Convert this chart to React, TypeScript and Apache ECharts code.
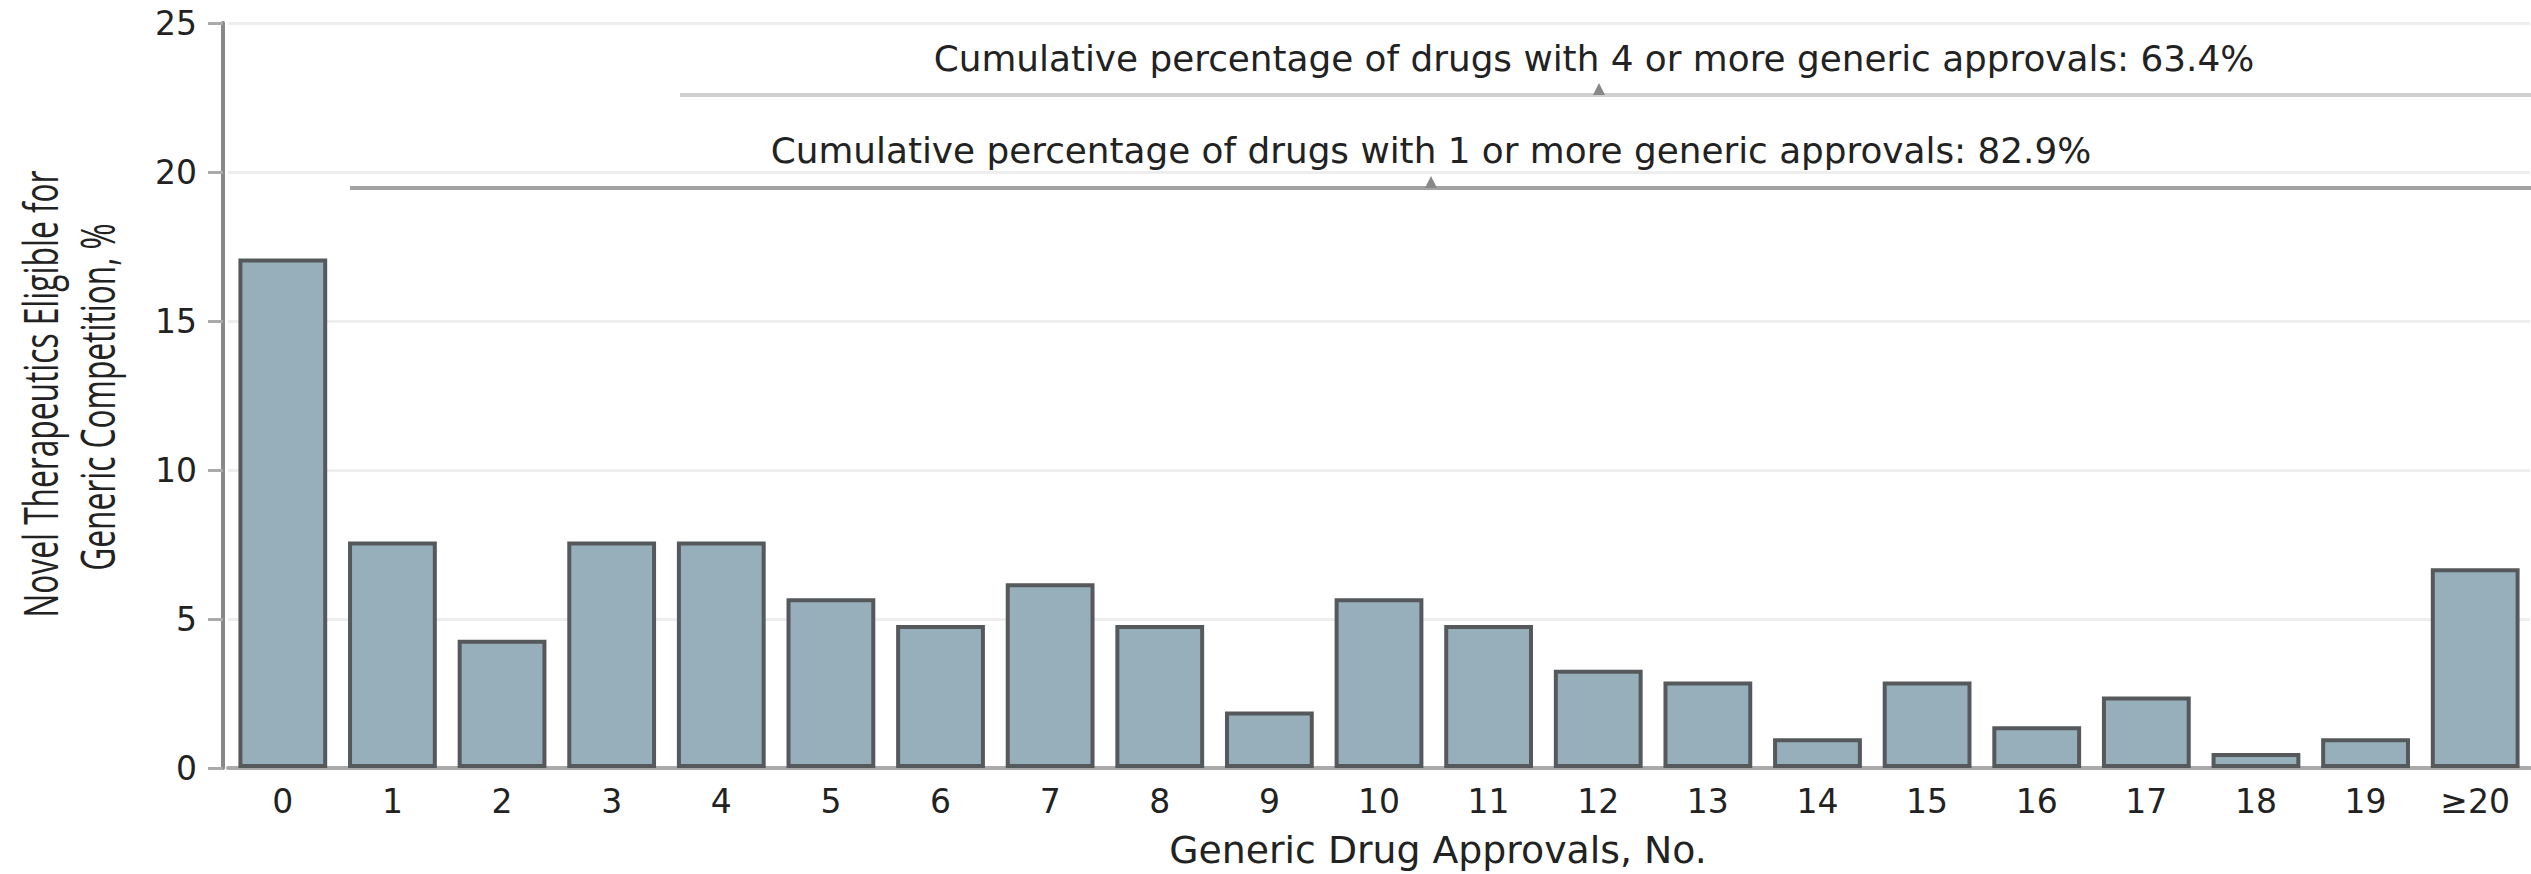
import React, { useEffect, useRef } from "react";
import * as echarts from "echarts";

const categories = ["0", "1", "2", "3", "4", "5", "6", "7", "8", "9", "10", "11", "12", "13", "14", "15", "16", "17", "18", "19", "≥20"];
const percentOfDrugs = [17.1, 7.6, 4.3, 7.6, 7.6, 5.7, 4.8, 6.2, 4.8, 1.9, 5.7, 4.8, 3.3, 2.9, 1.0, 2.9, 1.4, 2.4, 0.5, 1.0, 6.7];
const yMin = 0;
const yMax = 25;
const yInterval = 5;
const annotationTexts = [
  "Cumulative percentage of drugs with 4 or more generic approvals: 63.4%",
  "Cumulative percentage of drugs with 1 or more generic approvals: 82.9%",
];
const yTitleLines = ["Novel Therapeutics Eligible for", "Generic Competition, %"];
const xTitle = "Generic Drug Approvals, No.";

const FONT = "'DejaVu Sans', 'Open Sans', sans-serif";
const TITLE_FONT = "'Open Sans', 'Noto Sans', sans-serif";

export default function App() {
  const ref = useRef<HTMLDivElement>(null);
  useEffect(() => {
    if (!ref.current) return;
    const chart = echarts.init(ref.current, undefined, { renderer: "svg" });
    const option: any = {
      animation: false,
      backgroundColor: "#ffffff",
      grid: { left: 228, right: 1, top: 23, bottom: 106, containLabel: false },
      xAxis: {
        type: "category",
        data: categories,
        axisLine: { show: true, lineStyle: { color: "#aaaaaa", width: 4 } },
        axisTick: { show: false },
        axisLabel: { color: "#222", fontSize: 33, fontFamily: FONT, margin: 17 },
        splitLine: { show: false },
      },
      yAxis: {
        type: "value",
        min: yMin,
        max: yMax,
        interval: yInterval,
        offset: 5,
        axisLine: { show: true, lineStyle: { color: "#888888", width: 4 } },
        axisTick: { show: true, length: 15, lineStyle: { color: "#aaaaaa", width: 3 } },
        axisLabel: { color: "#222", fontSize: 33, fontFamily: FONT, margin: 26 },
        splitLine: { show: true, lineStyle: { color: "#eeeeee", width: 3 } },
      },
      series: [
        {
          type: "bar",
          data: percentOfDrugs,
          barWidth: "81%",
          itemStyle: { color: "#96afbb", borderColor: "#55595c", borderWidth: 4 },
        },
      ],
      graphic: [
        { type: "line", shape: { x1: 680, y1: 95, x2: 2531, y2: 95 }, style: { stroke: "#cfcfcf", lineWidth: 4 } },
        { type: "polygon", shape: { points: [[1593, 95], [1605, 95], [1599, 83]] }, style: { fill: "#888" } },
        {
          type: "text",
          x: 1594,
          y: 58,
          style: { text: annotationTexts[0], fontSize: 35.8, fontFamily: FONT, fill: "#222", align: "center", verticalAlign: "middle" },
        },
        { type: "line", shape: { x1: 350, y1: 188, x2: 2531, y2: 188 }, style: { stroke: "#a3a3a3", lineWidth: 4 } },
        { type: "polygon", shape: { points: [[1425, 188], [1437, 188], [1431, 176]] }, style: { fill: "#888" } },
        {
          type: "text",
          x: 1431,
          y: 150,
          style: { text: annotationTexts[1], fontSize: 35.8, fontFamily: FONT, fill: "#222", align: "center", verticalAlign: "middle" },
        },
        {
          type: "text",
          x: 40,
          y: 394,
          rotation: Math.PI / 2,
          scaleX: 0.66,
          style: { text: yTitleLines[0], fontSize: 48, fontFamily: TITLE_FONT, fill: "#222", align: "center", verticalAlign: "middle" },
        },
        {
          type: "text",
          x: 97,
          y: 397,
          rotation: Math.PI / 2,
          scaleX: 0.66,
          style: { text: yTitleLines[1], fontSize: 48, fontFamily: TITLE_FONT, fill: "#222", align: "center", verticalAlign: "middle" },
        },
        {
          type: "text",
          x: 1438,
          y: 850,
          style: { text: xTitle, fontSize: 37.8, fontFamily: FONT, fill: "#222", align: "center", verticalAlign: "middle" },
        },
      ],
    };
    chart.setOption(option);
    return () => chart.dispose();
  }, []);
  return <div ref={ref} style={{ position: "absolute", left: 0, top: 0, width: 2531, height: 874 }} />;
}
